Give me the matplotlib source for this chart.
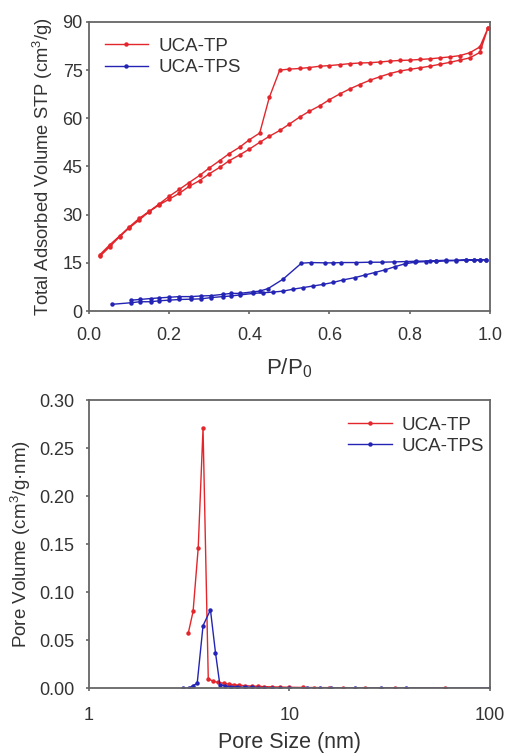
import matplotlib
matplotlib.use("Agg")
import matplotlib.pyplot as plt
from matplotlib.ticker import FixedLocator, NullLocator, FixedFormatter

plt.rcParams['font.family'] = ['Liberation Sans', 'DejaVu Sans']
plt.rcParams['mathtext.fontset'] = 'custom'
plt.rcParams['mathtext.rm'] = 'Liberation Sans'
plt.rcParams['mathtext.it'] = 'Liberation Sans:italic'

# ---------------- Isotherm data ----------------
tp_ads_x = [0.027, 0.052, 0.077, 0.10, 0.126, 0.15, 0.176, 0.20, 0.226, 0.25, 0.276, 0.30,
            0.326, 0.35, 0.376, 0.40, 0.426, 0.45, 0.476, 0.50, 0.526, 0.55, 0.576, 0.60,
            0.626, 0.65, 0.675, 0.70, 0.725, 0.75, 0.775, 0.80, 0.825, 0.85, 0.875, 0.90,
            0.925, 0.95, 0.975, 0.995]
tp_ads_y = [17.0, 20.0, 23.2, 25.8, 28.4, 30.9, 33.1, 34.8, 36.7, 38.8, 40.6, 42.7,
            44.7, 46.8, 48.6, 50.4, 52.5, 54.4, 56.2, 58.2, 60.4, 62.2, 63.9, 65.8,
            67.6, 69.1, 70.5, 71.8, 72.9, 73.9, 74.7, 75.2, 75.7, 76.2, 76.8, 77.4,
            78.1, 78.8, 80.5, 88.0]
tp_des_x = [0.995, 0.975, 0.95, 0.925, 0.90, 0.875, 0.85, 0.825, 0.80, 0.775, 0.75, 0.725,
            0.70, 0.675, 0.65, 0.626, 0.60, 0.576, 0.55, 0.526, 0.50, 0.476, 0.45, 0.426,
            0.40, 0.376, 0.35, 0.326, 0.30, 0.276, 0.25, 0.226, 0.20, 0.176, 0.15, 0.126,
            0.10, 0.077, 0.052, 0.027]
tp_des_y = [88.0, 82.2, 80.4, 79.5, 79.1, 78.8, 78.5, 78.3, 78.1, 78.0, 77.8, 77.5,
            77.3, 77.2, 77.0, 76.7, 76.4, 76.2, 75.8, 75.5, 75.3, 75.0, 66.5, 55.4,
            53.3, 51.0, 49.0, 46.8, 44.5, 42.2, 40.0, 37.9, 35.7, 33.4, 31.0, 28.9,
            26.1, 23.4, 20.6, 17.5]

tps_ads_x = [0.058, 0.106, 0.127, 0.154, 0.176, 0.201, 0.226, 0.255, 0.28, 0.305, 0.334,
             0.355, 0.376, 0.41, 0.434, 0.459, 0.484, 0.509, 0.534, 0.559, 0.584, 0.609,
             0.634, 0.663, 0.688, 0.713, 0.738, 0.763, 0.788, 0.813, 0.84, 0.865, 0.89,
             0.915, 0.94, 0.96, 0.975, 0.99]
tps_ads_y = [2.1, 2.6, 2.9, 2.9, 3.2, 3.4, 3.6, 3.7, 3.8, 4.2, 4.5,
             4.7, 5.0, 5.5, 5.7, 5.9, 6.2, 6.8, 7.3, 7.8, 8.3, 8.9,
             9.7, 10.4, 11.2, 12.0, 12.8, 13.8, 14.7, 15.2, 15.4, 15.5, 15.6,
             15.7, 15.8, 15.9, 15.9, 16.0]
tps_des_x = [0.99, 0.975, 0.96, 0.94, 0.915, 0.89, 0.865, 0.85, 0.815, 0.79, 0.76, 0.73,
             0.70, 0.665, 0.63, 0.61, 0.59, 0.555, 0.53, 0.484, 0.447, 0.426, 0.41,
             0.376, 0.355, 0.334, 0.305, 0.28, 0.255, 0.226, 0.201, 0.176, 0.154, 0.127,
             0.106]
tps_des_y = [16.0, 16.0, 15.9, 15.9, 15.8, 15.8, 15.7, 15.6, 15.5, 15.4, 15.3, 15.2,
             15.2, 15.1, 15.1, 15.0, 15.0, 15.1, 14.9, 9.9, 7.0, 6.2, 6.0,
             5.5, 5.5, 5.2, 4.8, 4.7, 4.5, 4.5, 4.3, 4.1, 3.9, 3.6,
             3.4]

# ---------------- Pore size distribution ----------------
tp_psd_x = [3.13, 3.31, 3.51, 3.71, 3.94, 4.17, 4.4, 4.7, 5.0, 5.3, 5.6, 6.0, 6.5,
            7.0, 7.5, 8.2, 9.0, 10.0, 11.7, 13.2, 15.7, 18.6, 23.9, 33.5, 60.0]
tp_psd_y = [0.057, 0.080, 0.146, 0.271, 0.0097, 0.007, 0.006, 0.005, 0.004, 0.0035,
            0.003, 0.0025, 0.002, 0.0018, 0.0015, 0.0012, 0.001, 0.0008, 0.0006, 0.0005,
            0.0004, 0.0003, 0.0002, 0.0001, 0.0]
tps_psd_x = [2.95, 3.15, 3.31, 3.47, 3.71, 4.04, 4.28, 4.5, 4.8, 5.1, 5.5, 6.0, 6.5,
             7.0, 7.5, 8.2, 9.0, 10.0, 12.2, 14.2, 16.1, 21.3, 28.8, 38.3, 100.0]
tps_psd_y = [0.0, 0.0, 0.0025, 0.005, 0.065, 0.0815, 0.037, 0.0035, 0.002, 0.0015,
             0.001, 0.001, 0.0008, 0.0005, 0.0004, 0.0003, 0.0002, 0.0002, 0.0001,
             0.0001, 0.0, 0.0, 0.0, 0.0, 0.0]

labels = ['UCA-TP', 'UCA-TPS']
red = '#e3262b'
blue = '#2424b4'
txt = '#333333'
spine_c = '#666666'

fig = plt.figure(figsize=(5.05, 7.55), dpi=100)
ax1 = fig.add_axes([0.176, 0.588, 0.794, 0.383])
ax2 = fig.add_axes([0.176, 0.0887, 0.794, 0.381])

mk = dict(marker='o', markersize=3.2, linewidth=1.0, markeredgewidth=0)

ax1.plot(tp_ads_x + tp_des_x, tp_ads_y + tp_des_y, color=red, label=labels[0], **mk)
ax1.plot(tps_ads_x + tps_des_x, tps_ads_y + tps_des_y, color=blue, label=labels[1], **mk)
ax1.set_xlim(0, 1.0)
ax1.set_ylim(0, 90)
ax1.set_xticks([0.0, 0.2, 0.4, 0.6, 0.8, 1.0])
ax1.set_xticklabels(['0.0', '0.2', '0.4', '0.6', '0.8', '1.0'])
ax1.set_yticks([0, 15, 30, 45, 60, 75, 90])
ax1.set_xlabel('P/P$_\\mathrm{0}$', fontsize=16, color=txt, labelpad=9)
ax1.set_ylabel('Total Adsorbed Volume STP (cm$^\\mathrm{3}$/g)', fontsize=13.2, color=txt, labelpad=5)
ax1.legend(loc='upper left', frameon=False, fontsize=13.5, handlelength=2.3,
           bbox_to_anchor=(0.0, 1.0), labelcolor=txt, handletextpad=0.55, borderaxespad=0.45,
           labelspacing=0.22)

ax2.plot(tp_psd_x, tp_psd_y, color=red, label=labels[0], **mk)
ax2.plot(tps_psd_x, tps_psd_y, color=blue, label=labels[1], **mk)
ax2.set_xscale('log')
ax2.set_xlim(1, 100)
ax2.set_ylim(0, 0.30)
ax2.xaxis.set_major_locator(FixedLocator([1, 10, 100]))
ax2.xaxis.set_major_formatter(FixedFormatter(['1', '10', '100']))
ax2.xaxis.set_minor_locator(NullLocator())
ax2.set_yticks([0.0, 0.05, 0.10, 0.15, 0.20, 0.25, 0.30])
ax2.set_yticklabels(['0.00', '0.05', '0.10', '0.15', '0.20', '0.25', '0.30'])
ax2.set_xlabel('Pore Size (nm)', fontsize=15.5, color=txt, labelpad=6)
ax2.set_ylabel('Pore Volume (cm$^\\mathrm{3}$/g·nm)', fontsize=13.5, color=txt, labelpad=4)
ax2.legend(loc='upper right', frameon=False, fontsize=13.5, handlelength=2.3,
           labelcolor=txt, handletextpad=0.55, borderaxespad=0.15, labelspacing=0.22,
           bbox_to_anchor=(1.012, 0.98))

for ax in (ax1, ax2):
    for s in ax.spines.values():
        s.set_color(spine_c)
        s.set_linewidth(1.3)
    ax.tick_params(axis='both', which='major', direction='out', length=2.5, width=1.2,
                   color=spine_c, labelsize=13, labelcolor=txt, top=False, right=False)
    ax.tick_params(axis='x', pad=9)
ax1.tick_params(axis='y', pad=2)
ax2.tick_params(axis='y', pad=8)
ax2.tick_params(axis='x', pad=11)

fig.savefig('out.png', dpi=100)
